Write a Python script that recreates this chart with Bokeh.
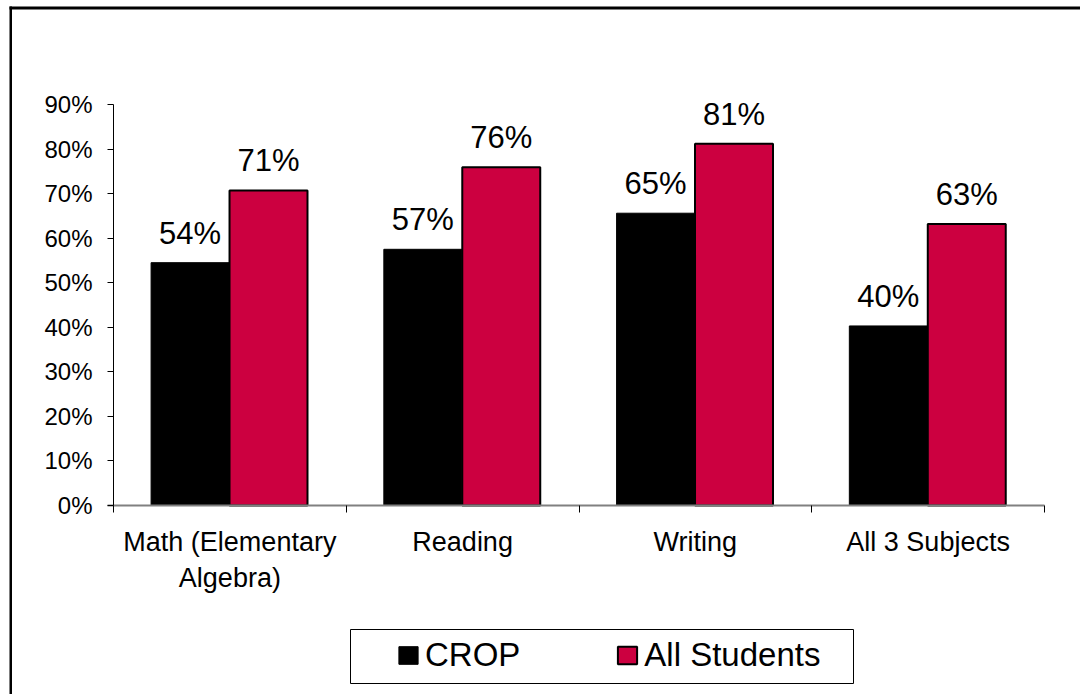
from bokeh.plotting import figure
from bokeh.models import (ColumnDataSource, Range1d, FixedTicker, LinearAxis,
                          LabelSet, Legend, LegendItem, BoxAnnotation)
from bokeh.core.properties import value
from bokeh.embed import file_html
from bokeh.resources import INLINE

categories = ["Math (Elementary\nAlgebra)", "Reading", "Writing", "All 3 Subjects"]
crop_values = [54.5, 57.5, 65.6, 40.3]
all_values = [70.7, 75.9, 81.2, 63.2]
crop_labels = ["54%", "57%", "65%", "40%"]
all_labels = ["71%", "76%", "81%", "63%"]
y_ticks = [0, 10, 20, 30, 40, 50, 60, 70, 80, 90]
y_tick_labels = ["0%", "10%", "20%", "30%", "40%", "50%", "60%", "70%", "80%", "90%"]
series_names = ["CROP", "All Students"]

FONT = "Liberation Sans"
RED = "#CC0040"

# canvas / plot-area geometry (pixels)
W, H = 1080, 694
AX_L, AX_R, AX_T, AX_B = 113, 1044, 104, 505
n = len(categories)
ymax = 90
kx = (AX_R - AX_L) / n
ky = (AX_B - AX_T) / ymax

idx = list(range(n))
crop_src = ColumnDataSource(dict(x=[i + 0.329 for i in idx], top=crop_values, lab=crop_labels))
all_src = ColumnDataSource(dict(x=[i + 0.666 for i in idx], top=all_values, lab=all_labels))

p = figure(width=W, height=H, output_backend="svg", toolbar_location=None,
           x_range=Range1d(-AX_L / kx, (W - AX_L) / kx),
           y_range=Range1d(-(H - AX_B) / ky, ymax + AX_T / ky),
           x_axis_type=None, y_axis_type=None,
           min_border=0, min_border_left=0, min_border_top=0,
           min_border_right=0, min_border_bottom=0)
p.outline_line_color = None
p.xgrid.visible = False
p.ygrid.visible = False
p.background_fill_color = "white"
p.border_fill_color = "white"

r1 = p.vbar(x="x", top="top", width=0.335, source=crop_src,
            fill_color="black", line_color="black", line_width=1)
r2 = p.vbar(x="x", top="top", width=0.335, source=all_src,
            fill_color=RED, line_color="black", line_width=2)

# y axis
yax = LinearAxis(ticker=FixedTicker(ticks=y_ticks, minor_ticks=[]),
                 major_label_overrides={t: l for t, l in zip(y_ticks, y_tick_labels)},
                 fixed_location=0, bounds=(0, ymax))
yax.axis_line_color = "black"
yax.major_tick_line_color = "black"
yax.major_tick_out = 6
yax.major_tick_in = 0
yax.minor_tick_line_color = None
yax.major_label_text_font = FONT
yax.major_label_text_font_size = "24px"
yax.major_label_text_color = "black"
yax.major_label_standoff = 15
p.add_layout(yax, "left")

# x axis: labels at category centres, tick marks at category boundaries
xax = LinearAxis(ticker=FixedTicker(ticks=[i + 0.5 for i in idx], minor_ticks=list(range(n + 1))),
                 major_label_overrides={i + 0.5: c for i, c in zip(idx, categories)},
                 fixed_location=0, bounds=(-0.026, n))
xax.axis_line_color = "#808080"
xax.axis_line_width = 2
xax.major_tick_line_color = None
xax.major_tick_out = 0
xax.major_tick_in = 0
xax.minor_tick_line_color = "black"
xax.minor_tick_out = 7
xax.minor_tick_in = 0
xax.major_label_text_font = FONT
xax.major_label_text_font_size = "27px"
xax.major_label_text_color = "black"
xax.major_label_standoff = 14
p.add_layout(xax, "below")

for src in (crop_src, all_src):
    p.add_layout(LabelSet(x="x", y="top", text="lab", source=src, y_offset=19,
                          text_align="center", text_baseline="alphabetic",
                          text_font=value(FONT), text_font_size="31px", text_color="black"))

legend = Legend(items=[LegendItem(label=series_names[0], renderers=[r1]),
                       LegendItem(label=series_names[1], renderers=[r2])],
                location=(396, 20), orientation="horizontal")
legend.border_line_color = None
legend.background_fill_alpha = 0
legend.padding = 0
legend.margin = 0
legend.spacing = 95
legend.glyph_width = 24
legend.glyph_height = 22
legend.label_height = 22
legend.label_standoff = 5
legend.label_text_font = FONT
legend.label_text_font_size = "33px"
legend.label_text_color = "black"
p.add_layout(legend, "center")

def canvas_box(left, right, top, bottom, **kw):
    return BoxAnnotation(left=left, right=right, top=top, bottom=bottom,
                         left_units="canvas", right_units="canvas",
                         top_units="canvas", bottom_units="canvas",
                         level="overlay", **kw)

# legend box
p.add_layout(canvas_box(350, 853, 629, 683, fill_alpha=0,
                        line_color="black", line_alpha=1, line_width=1))
# outer frame: only its left and top edges fall inside the picture
p.add_layout(canvas_box(9, 11.5, 6, H + 20, fill_color="black", fill_alpha=1, line_alpha=0))
p.add_layout(canvas_box(9, W + 20, 6, 9, fill_color="black", fill_alpha=1, line_alpha=0))

open("out.html", "w").write(file_html(p, INLINE))
